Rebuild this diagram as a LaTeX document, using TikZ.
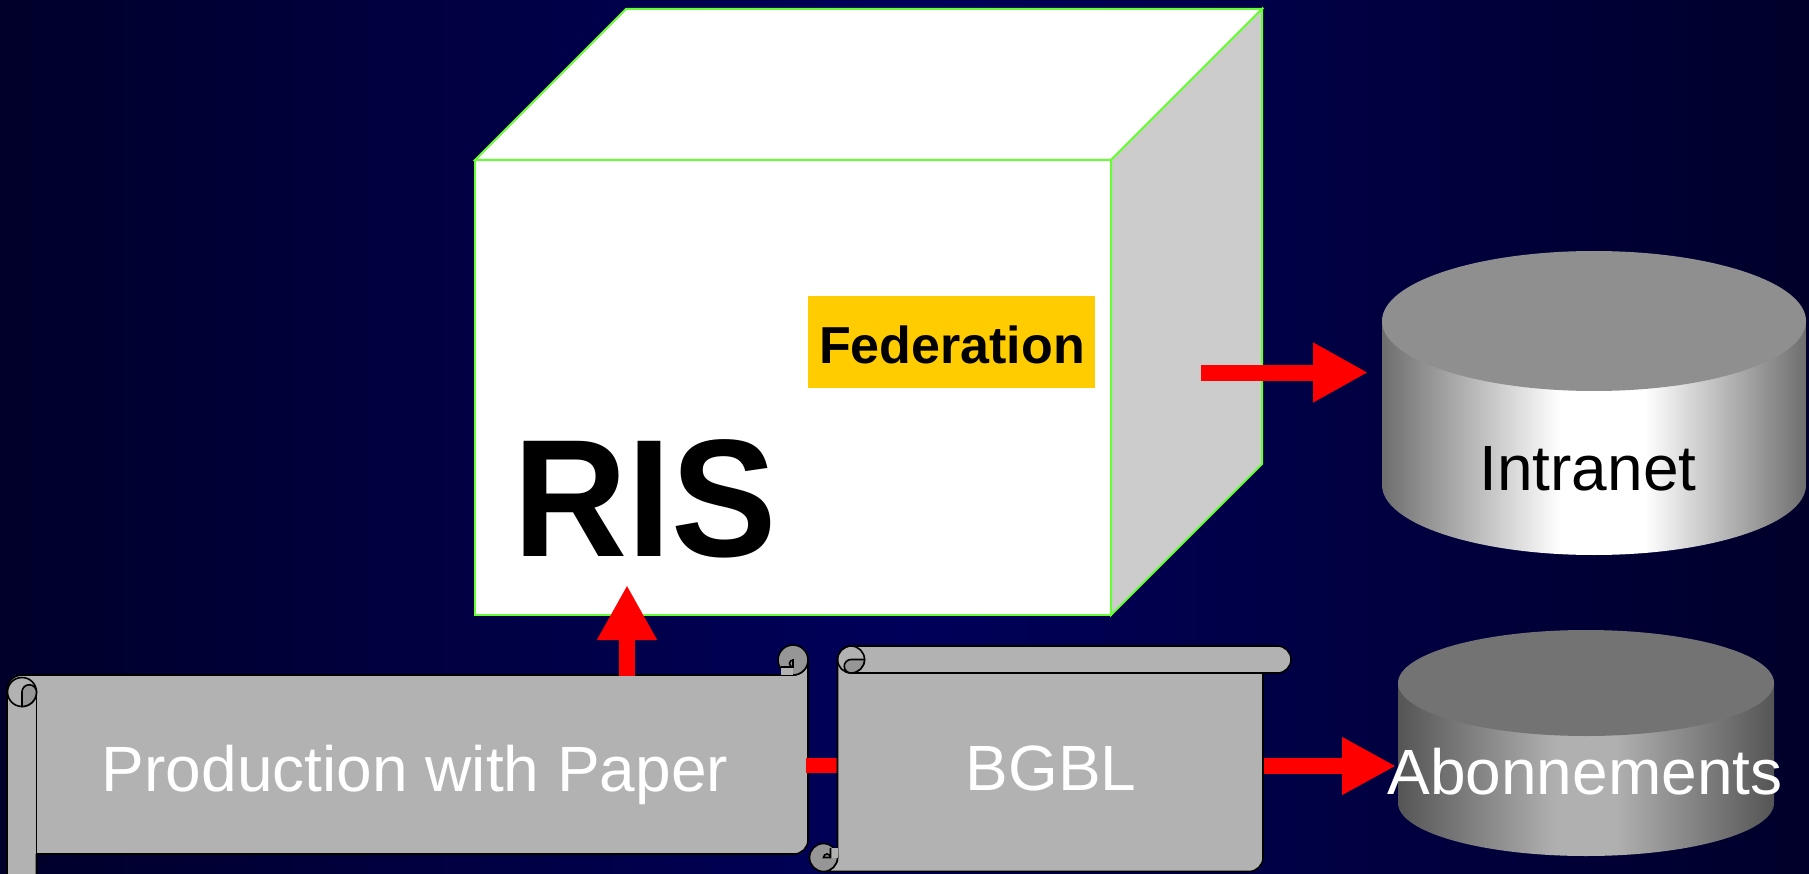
\documentclass[tikz,border=0pt]{standalone}
\usepackage{fontspec}
\setmainfont{Liberation Sans}
\usetikzlibrary{arrows.meta}
\definecolor{bgedge}{RGB}{0,0,42}
\definecolor{bgmid}{RGB}{0,0,90}
\definecolor{cubeedge}{RGB}{102,255,51}
\definecolor{sidegray}{RGB}{204,204,204}
\definecolor{fedorange}{RGB}{255,204,0}
\definecolor{scrollgray}{RGB}{178,178,178}
\definecolor{curlgray}{RGB}{150,150,150}
\definecolor{intop}{RGB}{143,143,143}
\definecolor{inedge}{RGB}{110,110,110}
\definecolor{abtop}{RGB}{115,115,115}
\definecolor{abedge}{RGB}{85,85,85}
\definecolor{abmid}{RGB}{176,176,176}
\pgfdeclarehorizontalshading{intranetshade}{100bp}{color(0bp)=(inedge); color(25bp)=(inedge); color(46bp)=(white); color(56bp)=(white); color(75bp)=(inedge); color(100bp)=(inedge)}
\pgfdeclarehorizontalshading{aboshade}{100bp}{color(0bp)=(abedge); color(25bp)=(abedge); color(46bp)=(abmid); color(54bp)=(abmid); color(75bp)=(abedge); color(100bp)=(abedge)}
\begin{document}
\begin{tikzpicture}[x=1pt,y=-1pt,
  cubeface/.style={draw=cubeedge,line width=2pt,line join=miter},
  scrollbody/.style={fill=scrollgray,draw=black,line width=1.6pt,line join=round},
  curl/.style={fill=curlgray,draw=black,line width=1.6pt},
  outl/.style={draw=black,line width=1.6pt},
  redarrow/.style={draw=red,line width=16pt,-{Triangle[length=55pt,width=56pt]}},
  redlink/.style={draw=red,line width=15pt},
  lbl/.style={inner sep=0pt,anchor=base,font=\fontsize{64}{70}\selectfont}
]
\useasboundingbox (0,0) rectangle (1809,874);
\clip (0,0) rectangle (1809,874);
% background
\shade[left color=bgedge,right color=bgedge,middle color=bgmid] (0,0) rectangle (1809,874);

% cube
\path[cubeface,fill=white] (475,160) -- (626,9) -- (1262,9) -- (1111,160) -- cycle;
\path[cubeface,fill=sidegray] (1111,160) -- (1262,9) -- (1262,464) -- (1111,615) -- cycle;
\path[cubeface,fill=white] (475,160) rectangle (1111,615);
\node[fill=fedorange,minimum width=287pt,minimum height=92pt,inner sep=0pt] (fedbox) at (951.5,342) {};
\node[inner sep=0pt,anchor=base,font=\fontsize{52}{56}\selectfont\bfseries] (fed) at (952,363) {Federation};
\node[inner sep=0pt,anchor=base,font=\fontsize{158}{160}\selectfont\bfseries] (ris) at (645,556) {\scalebox{1}[1.06]{RIS}};

% scroll 1 : Production with Paper
\path[scrollbody] (7,880) -- (7,690) arc[start angle=180,end angle=270,radius=15]
  -- (793,675) arc[start angle=90,end angle=0,radius=15]
  -- (808,840) arc[start angle=0,end angle=90,radius=14]
  -- (36.5,854) -- (36.5,880) -- cycle;
\path[outl] (36.5,692) -- (36.5,854);
\path[outl] (22,692) circle[radius=14.5];
\path[curl] (22,692) arc[start angle=180,end angle=360,radius=7.25]
  arc[start angle=0,end angle=90,radius=14.5] -- cycle;
\path[curl] (793,660) circle[radius=15];
\fill[scrollgray] (781,667) rectangle (793,675);
\path[outl] (781,667) -- (793,667) -- (793,660) arc[start angle=270,end angle=90,radius=3.5];
\node[lbl,text=white] (pwp) at (415,791) {Production with Paper};

% link between scrolls
\coordinate (linkA) at (806,765.5);
\coordinate (linkB) at (840,765.5);
\draw[redlink] (linkA) -- (linkB);

% scroll 2 : BGBL
\path[scrollbody] (837.5,659.5) -- (837.5,857.5) arc[start angle=0,end angle=90,radius=14]
  -- (1249,871.5) arc[start angle=90,end angle=0,radius=14]
  -- (1263,673) -- (1277.5,673) arc[start angle=90,end angle=-90,radius=13.5]
  -- (851,646) arc[start angle=270,end angle=180,radius=13.5] -- cycle;
\path[outl] (851,673) -- (1277.5,673);
\path[outl] (851,659.5) circle[radius=13.5];
\path[curl] (851,659.5) arc[start angle=270,end angle=90,radius=6.75]
  arc[start angle=90,end angle=0,radius=13.5] -- cycle;
\path[curl] (823.5,857.5) circle[radius=14];
\fill[scrollgray] (830.5,848) rectangle (837.5,857.5);
\path[outl] (830.5,848) -- (830.5,857.5) -- (823.5,857.5) arc[start angle=180,end angle=360,radius=3.5];
\node[lbl,text=white] (bgbl) at (1051,790) {BGBL};

% Intranet cylinder
\shade[shading=intranetshade]
  (1382,321) -- (1382,485) arc[start angle=180,end angle=0,x radius=212,y radius=70] -- (1806,321) -- cycle;
\fill[intop] (1594,321) ellipse[x radius=212,y radius=70];
\node[lbl,text=black] (intranet) at (1588,490) {Intranet};

% Abonnements cylinder
\shade[shading=aboshade]
  (1398,683) -- (1398,803) arc[start angle=180,end angle=0,x radius=188,y radius=53] -- (1774,683) -- cycle;
\fill[abtop] (1586,683) ellipse[x radius=188,y radius=53];

% arrows
\coordinate (cubeOut) at (1201,372.5);
\coordinate (intranetIn) at (1368,372.5);
\draw[redarrow] (cubeOut) -- (intranetIn);
\coordinate (bgblOut) at (1264,766);
\coordinate (aboIn) at (1396,766);
\draw[redarrow,-{Triangle[length=54pt,width=54pt]}] (bgblOut) -- (aboIn);
\coordinate (pwpOut) at (627,676);
\coordinate (risIn) at (627,585);
\draw[redarrow] (pwpOut) -- (risIn);

\node[lbl,text=white] (abo) at (1585,794) {Abonnements};
\end{tikzpicture}
\end{document}
